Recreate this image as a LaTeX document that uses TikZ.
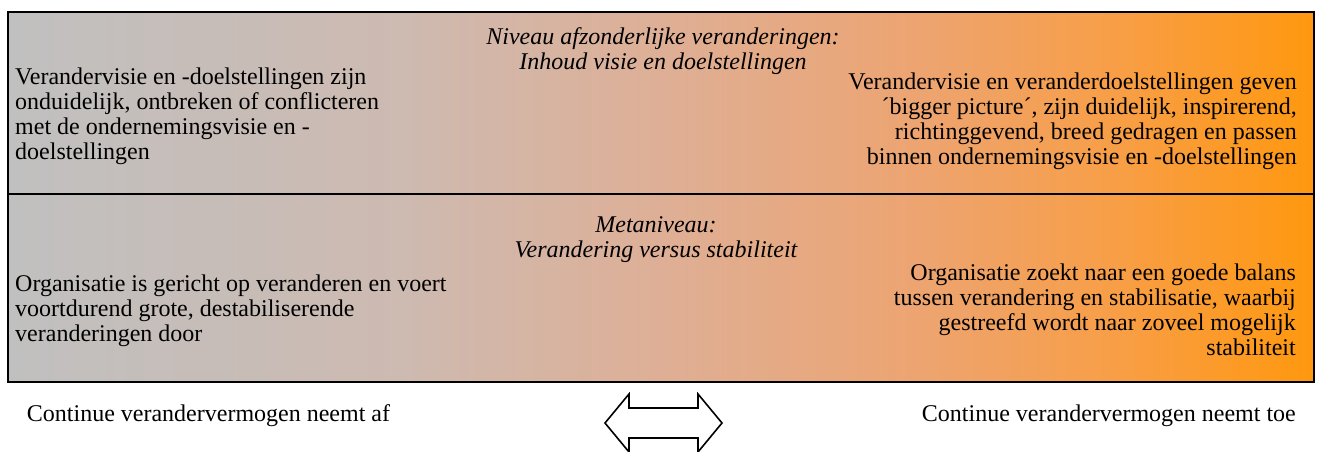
\documentclass[tikz,border=0pt]{standalone}
\usepackage{fontspec}
\setmainfont{Liberation Serif}
\definecolor{gA}{RGB}{192,192,192}
\definecolor{gB}{RGB}{205,186,177}
\definecolor{gC}{RGB}{222,175,150}
\definecolor{gD}{RGB}{237,164,112}
\definecolor{gE}{RGB}{248,158,70}
\definecolor{gF}{RGB}{255,152,15}
\pgfdeclarehorizontalshading{bgshade}{100bp}{color(0bp)=(gA); color(25bp)=(gA); color(40bp)=(gB); color(50bp)=(gC); color(60bp)=(gD); color(67.5bp)=(gE); color(75bp)=(gF); color(100bp)=(gF)}
\begin{document}
\begin{tikzpicture}[x=1pt,y=-1pt,
  txt/.style={inner sep=0pt, font=\fontsize{24}{25}\selectfont},
  ttl/.style={txt, align=center, font=\fontsize{24}{25}\selectfont\itshape},
  frame/.style={draw=black, line width=1.6pt}]
\useasboundingbox (0,0) rectangle (1318,452);
\shade[shading=bgshade] (8,12) rectangle (1314,382);
\draw[frame] (8,12) rectangle (1314,382);
\draw[frame] (8,194) -- (1314,194);
% top row (base anchor = last line baseline)
\node[ttl, anchor=base] (t1) at (663,69.5) {Niveau afzonderlijke veranderingen:\\Inhoud visie en doelstellingen};
\node[txt, align=left, anchor=base west] (tl) at (15,159) {Verandervisie en -doelstellingen zijn\\onduidelijk, ontbreken of conflicteren\\met de ondernemingsvisie en -\\doelstellingen};
\node[txt, align=right, anchor=base east] (tr) at (1297,164.3) {Verandervisie en veranderdoelstellingen geven\\´bigger picture´, zijn duidelijk, inspirerend,\\richtinggevend, breed gedragen en passen\\binnen ondernemingsvisie en -doelstellingen};
% bottom row
\node[ttl, anchor=base] (t2) at (656,257) {Metaniveau:\\Verandering versus stabiliteit};
\node[txt, align=left, anchor=base west] (bl) at (15,341) {Organisatie is gericht op veranderen en voert\\voortdurend grote, destabiliserende\\veranderingen door};
\node[txt, align=right, anchor=base east] (br) at (1296,355) {Organisatie zoekt naar een goede balans\\tussen verandering en stabilisatie, waarbij\\gestreefd wordt naar zoveel mogelijk\\stabiliteit};
% captions
\node[txt, anchor=base west] (cl) at (26.7,421) {Continue verandervermogen neemt af};
\node[txt, anchor=base east] (cr) at (1296,421) {Continue verandervermogen neemt toe};
% double arrow
\draw[line width=1.6pt, fill=white, line join=miter]
  (605,423) -- (629,394) -- (629,408) -- (698,408) -- (698,394) -- (722,423)
  -- (698,452) -- (698,438) -- (629,438) -- (629,452) -- cycle;
\end{tikzpicture}
\end{document}
